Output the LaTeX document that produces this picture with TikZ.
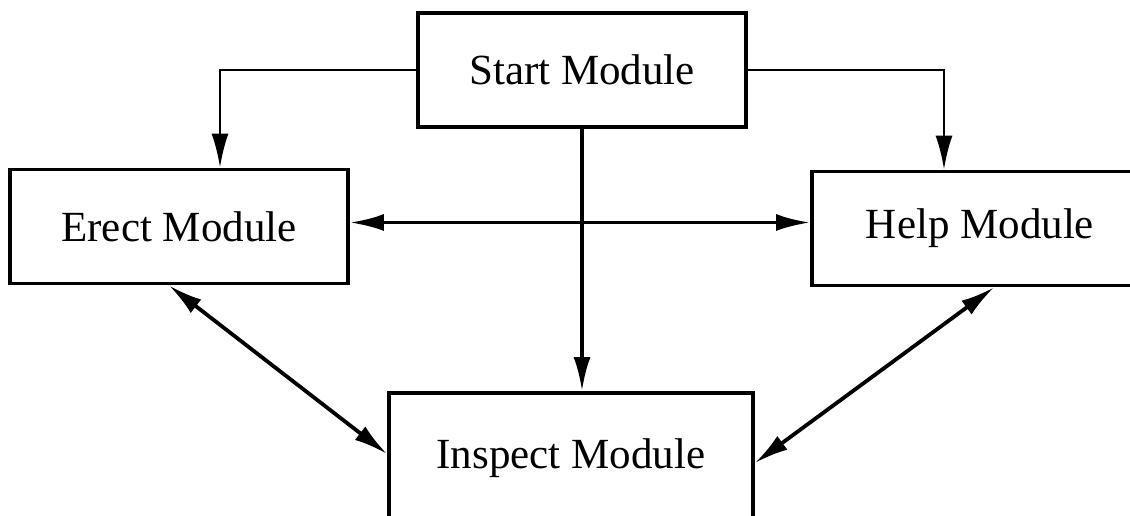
\documentclass[tikz,border=0pt]{standalone}
\usepackage{fontspec}
\setmainfont{Liberation Serif}
\usetikzlibrary{arrows.meta}

\tikzset{
  module/.style={draw, line width=1.9pt, inner sep=0pt, minimum height=57pt,
    minimum width=#1, font=\fontsize{21.5}{26}\selectfont},
  link/.style={line width=1.9pt, -{Latex[length=17pt,width=8.5pt]}},
  thinlink/.style={line width=1.3pt, -{Latex[length=17pt,width=8.5pt]}},
  bilink/.style={line width=1.9pt, {Latex[length=17pt,width=8.5pt]}-{Latex[length=17pt,width=8.5pt]}},
}

\begin{document}
\begin{tikzpicture}[x=0.5pt, y=-0.5pt]
\clip (0,0) rectangle (1130,515);

\node [module=164pt] (start) at (582,70) {Start Module};
\node [module=169pt] (erect) at (179,226.5) {Erect Module};
\node [module=168pt] (help) at (980,228.5) {Help Module};
\node [module=182pt, minimum height=65pt] (inspect) at (571,458) {Inspect Module};

\draw [thinlink] (start.west) -| ([xshift=20.5pt]erect.north);
\draw [thinlink] (start.east) -| ([xshift=-18pt]help.north);
\draw [link] (start.south) -- (start.south |- inspect.north);
\draw [bilink] ([yshift=2pt]erect.east) -- ([yshift=2pt]erect.east -| help.west);
\draw [bilink] ([xshift=-5pt]erect.south) -- ([yshift=2pt]inspect.west);
\draw [bilink] ([xshift=7pt]help.south) -- ([yshift=-2.5pt]inspect.east);
\end{tikzpicture}
\end{document}
